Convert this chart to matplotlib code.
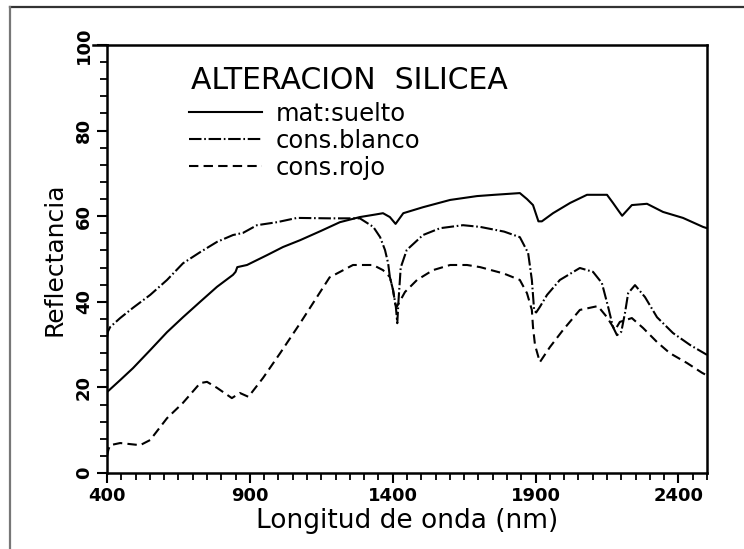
import matplotlib
matplotlib.use("Agg")
import matplotlib.pyplot as plt
from matplotlib.lines import Line2D
from matplotlib.ticker import MultipleLocator

# Curvas de reflectancia
wl_suelto = [400, 446, 491, 551, 610, 666, 726, 785, 841, 850, 856, 890, 960, 1016,
             1076, 1150, 1215, 1285, 1340, 1366, 1390, 1410, 1437, 1506, 1601, 1695,
             1756, 1845, 1870, 1891, 1910, 1922, 1961, 2021, 2080, 2150, 2171, 2190,
             2203, 2237, 2290, 2346, 2416, 2486, 2500]
suelto = [18.9, 21.7, 24.5, 28.7, 32.9, 36.4, 40.0, 43.5, 46.3, 47.0, 48.1, 48.6, 50.9, 52.8,
          54.4, 56.6, 58.6, 59.8, 60.4, 60.7, 59.8, 58.2, 60.7, 62.1, 63.8, 64.7,
          65.0, 65.4, 64.0, 62.6, 58.8, 58.8, 60.7, 63.1, 65.0, 65.0, 63.1, 61.3,
          60.1, 62.6, 62.9, 61.0, 59.6, 57.5, 57.2]

wl_blanco = [400, 403, 411, 446, 491, 551, 610, 666, 726, 785, 841, 876, 925, 995, 1065,
             1179, 1285, 1332, 1356, 1373, 1384, 1390, 1401, 1411, 1416, 1420, 1428, 1449,
             1506, 1566, 1646, 1706, 1790, 1845, 1874, 1887, 1895, 1902, 1915, 1940, 1985,
             2055, 2101, 2132, 2154, 2171, 2185, 2200, 2213, 2224, 2248, 2283, 2325, 2381,
             2441, 2500]
blanco = [31.5, 33.0, 34.1, 36.2, 38.6, 41.6, 45.1, 49.0, 51.6, 54.0, 55.6, 56.1, 57.9, 58.6, 59.6,
          59.5, 59.5, 57.5, 55.1, 52.1, 49.0, 45.8, 42.8, 38.8, 35.0, 40.0, 48.0, 52.1,
          55.6, 57.2, 57.9, 57.5, 56.4, 55.1, 51.4, 45.1, 38.0, 37.5, 38.8, 41.6, 45.1,
          47.9, 47.0, 44.4, 38.8, 34.1, 32.2, 33.0, 37.4, 42.0, 43.9, 41.1, 36.4, 32.7,
          29.9, 27.6]

wl_rojo = [400, 405, 411, 446, 516, 551, 610, 666, 726, 750, 785, 837, 865, 895, 946, 1006,
           1076, 1179, 1261, 1331, 1366, 1390, 1401, 1409, 1414, 1443, 1485, 1541, 1601,
           1660, 1706, 1789, 1845, 1870, 1887, 1891, 1898, 1915, 1950, 1996, 2055, 2118,
           2150, 2178, 2195, 2237, 2276, 2325, 2370, 2430, 2483, 2500]
rojo = [3.9, 5.5, 6.5, 7.0, 6.5, 7.7, 12.8, 16.4, 21.0, 21.3, 19.9, 17.5, 18.7, 17.8, 22.2, 28.0,
        35.0, 45.7, 48.6, 48.6, 47.4, 45.8, 42.8, 39.5, 38.8, 42.3, 45.1, 47.4, 48.6,
        48.6, 48.1, 46.6, 45.1, 42.0, 38.1, 34.1, 29.9, 25.9, 29.4, 33.4, 38.1, 39.0,
        36.4, 33.4, 35.3, 36.2, 33.9, 30.6, 28.0, 25.7, 23.4, 22.8]

x_ticks = [400, 900, 1400, 1900, 2400]
y_ticks = [0, 20, 40, 60, 80, 100]
etiquetas = ["mat:suelto", "cons.blanco", "cons.rojo"]
titulo = "ALTERACION  SILICEA"

plt.rcParams['font.family'] = ['DejaVu Sans']

fig = plt.figure(figsize=(7.44, 5.49), dpi=100)
ax = fig.add_axes([107 / 744, 76 / 549, 600 / 744, 428 / 549])

lw = 1.5
ax.plot(wl_suelto, suelto, color='k', lw=lw, ls='-', label=etiquetas[0])
ax.plot(wl_blanco, blanco, color='k', lw=lw, ls=(0, (6, 1.3, 0.8, 1.3)), label=etiquetas[1])
ax.plot(wl_rojo, rojo, color='k', lw=lw, ls=(0, (4.5, 2.5)), label=etiquetas[2])

ax.set_xlim(400, 2500)
ax.set_ylim(0, 100)
ax.set_xticks(x_ticks)
ax.set_yticks(y_ticks)
ax.xaxis.set_minor_locator(MultipleLocator(50))
ax.yaxis.set_minor_locator(MultipleLocator(4))
ax.tick_params(axis='both', which='major', direction='out', length=7, width=1.5,
               labelsize=13, pad=3)
ax.tick_params(axis='both', which='minor', direction='out', length=5, width=1.3)
for lab in ax.get_xticklabels():
    lab.set_fontweight('bold')
for lab in ax.get_yticklabels():
    lab.set_fontweight('bold')
    lab.set_rotation(90)
    lab.set_va('center')

for s in ax.spines.values():
    s.set_linewidth(1.8)

# prolongación del borde superior hacia la izquierda
ax.add_line(Line2D([-0.024, 0], [1, 1], transform=ax.transAxes, color='k', lw=1.8,
                   clip_on=False))

ax.set_xlabel("Longitud de onda (nm)", fontsize=19, labelpad=2)
ax.set_ylabel("Reflectancia", fontsize=18, labelpad=6)

# título de la leyenda y leyenda
fig.text(191 / 744, 1 - 81 / 549, titulo, fontsize=21.5, ha='left', va='center')
leg = ax.legend(loc='upper left', bbox_to_anchor=(189 / 744, 1 - 102 / 549),
                bbox_transform=fig.transFigure, frameon=False,
                fontsize=17.5, handlelength=3.0, handletextpad=0.55,
                labelspacing=0.12, borderpad=0, borderaxespad=0)

# marco de la imagen
fig.add_artist(Line2D([10 / 744, 1], [1 - 7 / 549, 1 - 7 / 549], color='#333333', lw=1.6))
fig.add_artist(Line2D([10 / 744, 10 / 744], [0, 1 - 7 / 549], color='#777777', lw=1.6))

fig.savefig("out.png", dpi=100)
